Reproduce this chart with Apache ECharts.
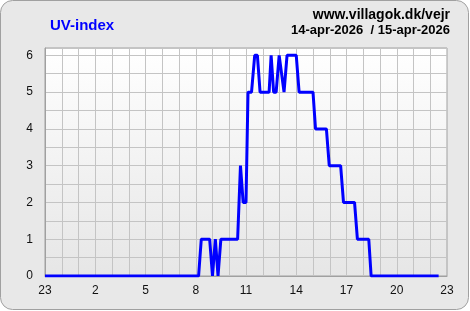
<!DOCTYPE html>
<html><head><meta charset="utf-8">
<script src="https://cdn.jsdelivr.net/npm/echarts@6/dist/echarts.min.js"></script>
<style>html,body{margin:0;padding:0;background:#fff}#c{width:470px;height:311px}</style>
</head><body><div id="c"></div>
<script>
// hours since 23:00 on 14-apr
var hours = [0, 9.17, 9.33, 9.83, 10.0, 10.17, 10.33, 10.5, 11.5, 11.67, 11.83, 12.0, 12.12, 12.33, 12.52, 12.68, 12.84, 13.38, 13.5, 13.65, 13.8, 13.98, 14.08, 14.27, 14.45, 15.0, 15.17, 16.0, 16.15, 16.8, 16.97, 17.65, 17.82, 18.48, 18.65, 19.33, 19.47, 23.5];
var uv    = [0, 0,    1,    1,    0,    1,     0,     1,    1,    3,     2,     2,    5,     5,     6,     6,     5,     5,     6,    5,     5,    6,     6,     5,     6,     6,    5,     5,    4,     4,    3,     3,     2,     2,     1,     1,     0,     0];
var xTickLabels = ['23','0','1','2','3','4','5','6','7','8','9','10','11','12','13','14','15','16','17','18','19','20','21','22','23'];
var yMax = 6.2;

var chart = echarts.init(document.getElementById('c'), null, {renderer:'canvas'});
var pts = hours.map(function(h,i){return [h, uv[i]];});
var font = 'Liberation Sans, Arial, sans-serif';
chart.setOption({
  animation:false,
  backgroundColor:'transparent',
  graphic:[
    {type:'rect', z:-10, shape:{x:0.5,y:0.5,width:468,height:309,r:12}, style:{fill:'#e8e8e8', stroke:'#a0a0a0', lineWidth:1}},
    {type:'text', left:50, top:18, style:{text:'UV-index', fill:'#0000ff', font:'bold 15px '+font}},
    {type:'text', right:20, top:8, style:{text:'www.villagok.dk/vejr', fill:'#000', font:'bold 14px '+font, textAlign:'right'}},
    {type:'text', right:20, top:24, style:{text:'14-apr-2026  / 15-apr-2026', fill:'#000', font:'bold 13px '+font, textAlign:'right'}}
  ],
  grid:{left:45, right:23, top:48, bottom:35, show:true, borderColor:'#a0a0a0', borderWidth:1,
    backgroundColor:{type:'linear',x:0,y:0,x2:0,y2:1,colorStops:[{offset:0,color:'#ffffff'},{offset:1,color:'#e6e6e6'}]}},
  xAxis:{type:'value', min:0, max:24, interval:1,
    axisLine:{show:true, lineStyle:{color:'#a0a0a0'}}, axisTick:{show:false},
    axisLabel:{color:'#111', fontFamily:font, fontSize:12, margin:9,
      formatter:function(v){return (Math.round(v)%3===0)?xTickLabels[Math.round(v)]:'';}},
    splitLine:{show:true, lineStyle:{color:'#c4c4c4', width:1}}},
  yAxis:{type:'value', min:0, max:yMax, interval:0.5,
    axisLine:{show:true, lineStyle:{color:'#a0a0a0'}}, axisTick:{show:false},
    axisLabel:{color:'#111', fontFamily:font, fontSize:12, margin:12, showMaxLabel:false,
      formatter:function(v){return (Math.abs(v-Math.round(v))<1e-6)?String(Math.round(v)):'';}},
    splitLine:{show:true, lineStyle:{color:'#c4c4c4', width:1}}},
  series:[{type:'line', data:pts, showSymbol:false, symbol:'none',
    lineStyle:{color:'#0000ff', width:3}, itemStyle:{color:'#0000ff'}}]
});
</script></body></html>
